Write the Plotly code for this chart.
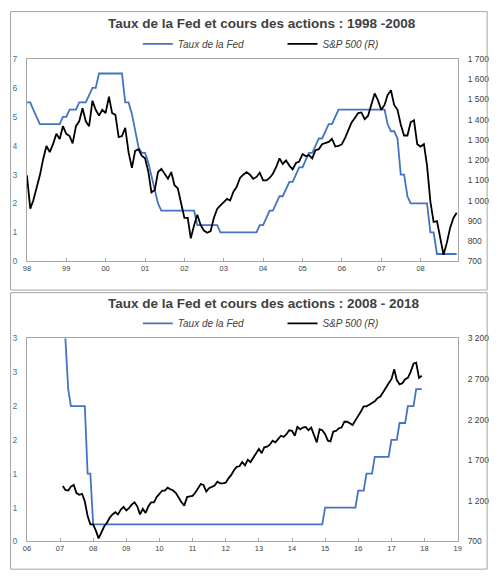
import pandas as pd
import plotly.graph_objects as go

W, H = 502, 583

BLUE = "#4472C4"
TICK_BLUE = "#2F75B5"
GREY_TXT = "#404040"
FRAME = "#A6A6A6"
FONT = "Liberation Sans, Arial, sans-serif"

# ---- 1998-2008, monthly from Jan 98 ----
fed_98 = [
    5.5, 5.5, 5.25, 5.0, 4.75, 4.75, 4.75, 4.75, 4.75, 4.75, 4.75, 5.0,
    5.0, 5.25, 5.25, 5.25, 5.5, 5.5, 5.5, 5.75, 6.0, 6.0, 6.5, 6.5,
    6.5, 6.5, 6.5, 6.5, 6.5, 6.5, 5.5, 5.5, 5.1, 4.5, 3.95, 3.75,
    3.75, 3.4, 2.95, 2.5, 2.0, 1.75, 1.75, 1.75, 1.75, 1.75, 1.75, 1.75,
    1.75, 1.75, 1.75, 1.75, 1.25, 1.25, 1.25, 1.25, 1.25, 1.25, 1.25, 1.0,
    1.0, 1.0, 1.0, 1.0, 1.0, 1.0, 1.0, 1.0, 1.0, 1.0, 1.0, 1.25,
    1.25, 1.5, 1.75, 1.75, 2.0, 2.25, 2.25, 2.5, 2.75, 2.75, 3.0, 3.25,
    3.25, 3.5, 3.75, 3.75, 4.0, 4.25, 4.25, 4.5, 4.75, 4.75, 5.0, 5.25,
    5.25, 5.25, 5.25, 5.25, 5.25, 5.25, 5.25, 5.25, 5.25, 5.25, 5.25, 5.25,
    5.25, 5.25, 4.75, 4.5, 4.5, 4.25, 3.0, 3.0, 2.25, 2.0, 2.0, 2.0,
    2.0, 2.0, 2.0, 1.0, 1.0, 0.25, 0.25, 0.25, 0.25, 0.25, 0.25, 0.25,
]
spx_98 = [
    1125, 960, 1000, 1060, 1125, 1206, 1270, 1240, 1280, 1330, 1305, 1368,
    1330, 1319, 1283, 1368, 1392, 1457, 1392, 1368, 1494, 1449, 1420, 1449,
    1433, 1514, 1433, 1424, 1314, 1319, 1360, 1238, 1162, 1246, 1254, 1222,
    1209, 1141, 1040, 1052, 1141, 1157, 1133, 1108, 1141, 1076, 1060, 995,
    914, 914, 813, 878, 930, 878, 852, 841, 849, 914, 959, 976,
    992, 1008, 1000, 1044, 1068, 1112, 1128, 1141, 1128, 1108, 1117, 1138,
    1100, 1100, 1112, 1133, 1165, 1209, 1181, 1198, 1173, 1154, 1186, 1193,
    1230, 1219, 1225, 1209, 1249, 1254, 1279, 1283, 1290, 1306, 1267, 1270,
    1279, 1311, 1352, 1387, 1408, 1433, 1436, 1403, 1420, 1481, 1530, 1497,
    1449, 1473, 1522, 1546, 1473, 1449, 1376, 1322, 1322, 1387, 1397, 1279,
    1267, 1279, 1173, 995, 894, 898, 817, 732, 792, 865, 914, 940,
]

# ---- 2008-2018, monthly from Feb 07 on the chart's axis ----
fed_08 = [
    4.25, 3.0, 2.25, 2.0, 2.0, 2.0, 2.0, 2.0, 2.0, 1.0, 1.0, 0.25,
    0.25, 0.25, 0.25, 0.25, 0.25, 0.25, 0.25, 0.25, 0.25, 0.25, 0.25, 0.25,
    0.25, 0.25, 0.25, 0.25, 0.25, 0.25, 0.25, 0.25, 0.25, 0.25, 0.25, 0.25,
    0.25, 0.25, 0.25, 0.25, 0.25, 0.25, 0.25, 0.25, 0.25, 0.25, 0.25, 0.25,
    0.25, 0.25, 0.25, 0.25, 0.25, 0.25, 0.25, 0.25, 0.25, 0.25, 0.25, 0.25,
    0.25, 0.25, 0.25, 0.25, 0.25, 0.25, 0.25, 0.25, 0.25, 0.25, 0.25, 0.25,
    0.25, 0.25, 0.25, 0.25, 0.25, 0.25, 0.25, 0.25, 0.25, 0.25, 0.25, 0.25,
    0.25, 0.25, 0.25, 0.25, 0.25, 0.25, 0.25, 0.25, 0.25, 0.25, 0.25, 0.5,
    0.5, 0.5, 0.5, 0.5, 0.5, 0.5, 0.5, 0.5, 0.5, 0.5, 0.5, 0.75,
    0.75, 0.75, 1.0, 1.0, 1.0, 1.25, 1.25, 1.25, 1.25, 1.25, 1.25, 1.5,
    1.5, 1.5, 1.75, 1.75, 1.75, 2.0, 2.0, 2.0, 2.25, 2.25, 2.25,
]
spx_08 = [
    1383, 1334, 1326, 1375, 1395, 1294, 1274, 1286, 1193, 1011, 910, 910,
    829, 736, 809, 882, 930, 991, 1031, 1059, 1031, 1092, 1124, 1080,
    1112, 1152, 1181, 1132, 1031, 1100, 1051, 1132, 1181, 1181, 1245, 1282,
    1326, 1326, 1362, 1342, 1326, 1294, 1233, 1181, 1140, 1245, 1253, 1261,
    1302, 1354, 1407, 1395, 1314, 1354, 1375, 1387, 1435, 1415, 1415, 1423,
    1476, 1516, 1576, 1617, 1625, 1677, 1637, 1706, 1677, 1730, 1786, 1839,
    1786, 1859, 1867, 1891, 1940, 1920, 1960, 2001, 1988, 2021, 2069, 2061,
    2001, 2110, 2081, 2102, 2110, 2069, 2102, 2001, 1920, 2081, 2069, 2021,
    1940, 1932, 2053, 2061, 2094, 2102, 2174, 2174, 2150, 2134, 2191, 2243,
    2303, 2364, 2364, 2384, 2404, 2425, 2465, 2485, 2538, 2586, 2647, 2699,
    2821, 2687, 2635, 2647, 2699, 2715, 2788, 2889, 2901, 2715, 2740,
]

months_98 = pd.date_range("1998-01-01", periods=len(spx_98), freq="MS")
months_08 = pd.date_range("2007-02-01", periods=len(spx_08), freq="MS")

left_ticks_98 = [0, 1, 2, 3, 4, 5, 6, 7]
right_ticks_98 = [700, 800, 900, 1000, 1100, 1200, 1300, 1400, 1500, 1600, 1700]
right_text_98 = ["700", "800", "900", "1 000", "1 100", "1 200", "1 300",
                 "1 400", "1 500", "1 600", "1 700"]
left_ticks_08 = [0, 0.5, 1, 1.5, 2, 2.5, 3]
left_text_08 = ["0", "1", "1", "2", "2", "3", "3"]
right_ticks_08 = [700, 1200, 1700, 2200, 2700, 3200]
right_text_08 = ["700", "1 200", "1 700", "2 200", "2 700", "3 200"]

titles = ["Taux de la Fed et cours des actions : 1998 -2008",
          "Taux de la Fed et cours des actions : 2008 - 2018"]
fed_name = "Taux de la Fed"
spx_name = "S&P 500 (R)"


def py(pixel):
    """Pixel row (from top) to paper y."""
    return 1 - pixel / H


def px(pixel):
    return pixel / W


fig = go.Figure()

fig.add_trace(go.Scatter(x=months_98, y=fed_98, name=fed_name, mode="lines",
                         line=dict(color=BLUE, width=1.8), showlegend=True,
                         xaxis="x", yaxis="y", legend="legend"))
fig.add_trace(go.Scatter(x=months_98, y=spx_98, name=spx_name, mode="lines",
                         line=dict(color="black", width=1.8), showlegend=True,
                         xaxis="x", yaxis="y2", legend="legend2"))
fig.add_trace(go.Scatter(x=months_08, y=fed_08, name=fed_name, mode="lines",
                         line=dict(color=BLUE, width=1.8), showlegend=True,
                         xaxis="x2", yaxis="y3", legend="legend3"))
fig.add_trace(go.Scatter(x=months_08, y=spx_08, name=spx_name, mode="lines",
                         line=dict(color="black", width=1.8), showlegend=True,
                         xaxis="x2", yaxis="y4", legend="legend4"))

xdom = [px(23.3), px(461)]
top_dom = [py(260.7), py(55)]
bot_dom = [py(545.7), py(339.3)]

xcommon = dict(
    domain=xdom, type="date", dtick="M12", tickformat="%y",
    showline=True, linecolor=FRAME, linewidth=1, mirror=True,
    ticks="inside", ticklen=3, tickcolor=FRAME, showgrid=False,
    zeroline=False, tickfont=dict(family=FONT, size=7.5, color=GREY_TXT),
    fixedrange=True,
)
yleft = dict(
    showline=True, linecolor=FRAME, linewidth=1, ticks="", showgrid=False,
    zeroline=False, tickfont=dict(family=FONT, size=8.5, color=TICK_BLUE),
    tickmode="array", ticklabelstandoff=7, fixedrange=True,
)
yright = dict(
    side="right", showline=False, ticks="", showgrid=False, zeroline=False,
    tickfont=dict(family=FONT, size=8.5, color=GREY_TXT), tickmode="array",
    ticklabelstandoff=9, fixedrange=True,
)

legend_common = dict(
    orientation="h", yanchor="middle", xanchor="left", bgcolor="rgba(0,0,0,0)",
    borderwidth=0, font=dict(family=FONT, size=10, color=GREY_TXT, style="italic"),
)

fig.update_layout(
    width=W, height=H,
    margin=dict(l=0, r=0, t=0, b=0),
    paper_bgcolor="white", plot_bgcolor="white",
    showlegend=True,
    xaxis=dict(xcommon, anchor="y", tick0="1998-01-01",
               range=["1998-01-01", "2008-12-10"]),
    yaxis=dict(yleft, domain=top_dom, range=[0, 7], tickvals=left_ticks_98,
               mirror=True),
    yaxis2=dict(yright, overlaying="y", anchor="x", range=[700, 1700],
                tickvals=right_ticks_98, ticktext=right_text_98),
    xaxis2=dict(xcommon, anchor="y3", tick0="2006-01-01",
                range=["2006-01-01", "2019-01-01"]),
    yaxis3=dict(yleft, domain=bot_dom, range=[0, 3], tickvals=left_ticks_08,
                ticktext=left_text_08, mirror=True),
    yaxis4=dict(yright, overlaying="y3", anchor="x2", range=[700, 3200],
                tickvals=right_ticks_08, ticktext=right_text_08),
    legend=dict(legend_common, x=px(136), y=py(39.5)),
    legend2=dict(legend_common, x=px(283), y=py(39.5)),
    legend3=dict(legend_common, x=px(136), y=py(324)),
    legend4=dict(legend_common, x=px(283), y=py(324)),
    annotations=[
        dict(text=titles[0], x=px(262.5), y=py(19), xref="paper", yref="paper",
             showarrow=False, xanchor="center", yanchor="middle",
             font=dict(family=FONT, size=13.5, color=GREY_TXT, weight="bold")),
        dict(text=titles[1], x=px(264.5), y=py(304), xref="paper", yref="paper",
             showarrow=False, xanchor="center", yanchor="middle",
             font=dict(family=FONT, size=13.5, color=GREY_TXT, weight="bold")),
    ],
    shapes=[
        dict(type="rect", xref="paper", yref="paper", x0=px(6.7), x1=px(491),
             y0=py(290), y1=py(6.7), line=dict(color=FRAME, width=1)),
        dict(type="rect", xref="paper", yref="paper", x0=px(6.7), x1=px(491),
             y0=py(574), y1=py(292.7), line=dict(color=FRAME, width=1)),
    ],
)

fig.write_html("out.html", config={"displayModeBar": False},
               post_script="document.body.style.margin='0';")
